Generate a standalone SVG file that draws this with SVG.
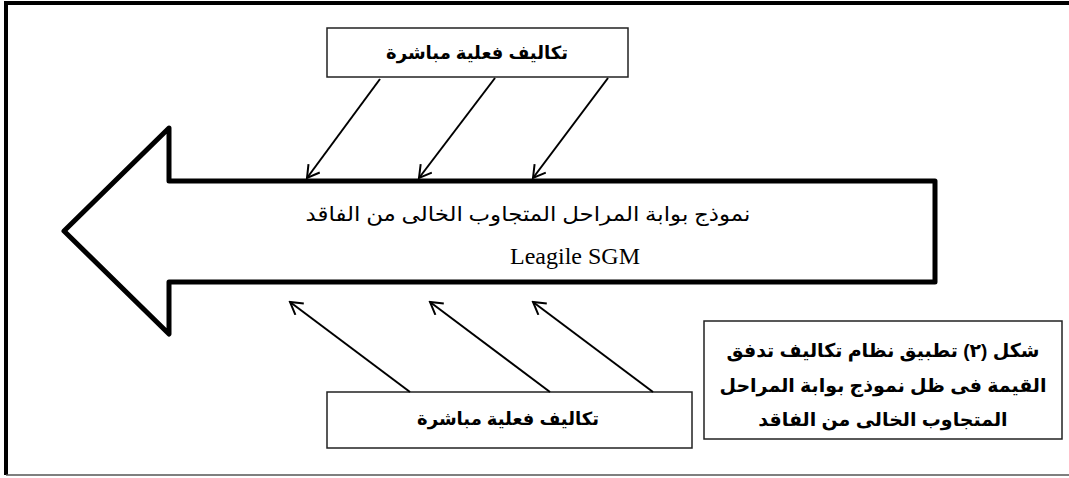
<svg xmlns="http://www.w3.org/2000/svg" width="1069" height="478" viewBox="0 0 1069 478">
<style>
.frame{fill:none;stroke:#000;stroke-width:4}
.box{fill:#fff;stroke:#222;stroke-width:1.5}
.big{fill:#fff;stroke:#000;stroke-width:5;stroke-linejoin:round}
.con{stroke:#000;stroke-width:2;fill:none}
.lbl{font-family:"Liberation Sans","DejaVu Sans",sans-serif;font-weight:bold;font-size:18px;fill:#000;text-anchor:middle}
.cap{font-family:"Liberation Sans","DejaVu Sans",sans-serif;font-weight:bold;font-size:19px;fill:#000;text-anchor:middle}
.ser{font-family:"Liberation Serif","DejaVu Serif","DejaVu Sans",serif;font-size:20px;fill:#000;text-anchor:middle}
.en{font-size:24px}
</style>
<defs>
<marker id="ah" markerWidth="16" markerHeight="16" refX="14" refY="8" orient="auto" markerUnits="userSpaceOnUse">
<path d="M2,1 L14,8 L2,15" fill="none" stroke="#000" stroke-width="2"/>
</marker>
</defs>
<g id="frame">
<path d="M1069,3 H6 V475" class="frame"/>
<line x1="6" y1="475" x2="1069" y2="475" stroke="#555" stroke-width="1.5"/>
</g>
<g id="bigArrow">
<path class="big" d="M935,181 H169 V128 L64,231 L169,334 V282 H935 Z"/>
<text class="ser" x="528" y="221" direction="rtl" textLength="445" lengthAdjust="spacingAndGlyphs">نموذج بوابة المراحل المتجاوب الخالى من الفاقد</text>
<text class="ser en" x="575" y="264">Leagile SGM</text>
</g>
<g id="topBox">
<rect class="box" x="327" y="28" width="301" height="49"/>
<text class="lbl" x="477" y="59" direction="rtl">تكاليف فعلية مباشرة</text>
</g>
<g id="bottomBox">
<rect class="box" x="327" y="392" width="365" height="56"/>
<text class="lbl" x="508" y="425" direction="rtl">تكاليف فعلية مباشرة</text>
</g>
<g id="caption">
<rect class="box" x="704" y="321" width="358" height="118"/>
<text class="cap" x="883" y="357" direction="rtl">شكل (٢) تطبيق نظام تكاليف تدفق</text>
<text class="cap" x="883" y="392" direction="rtl">القيمة فى ظل نموذج بوابة المراحل</text>
<text class="cap" x="883" y="426" direction="rtl">المتجاوب الخالى من الفاقد</text>
</g>
<g id="connectors">
<line class="con" x1="380" y1="79" x2="307" y2="178" marker-end="url(#ah)"/>
<line class="con" x1="495" y1="78" x2="419" y2="178" marker-end="url(#ah)"/>
<line class="con" x1="608" y1="78" x2="533" y2="178" marker-end="url(#ah)"/>
<line class="con" x1="410" y1="392" x2="290" y2="302" marker-end="url(#ah)"/>
<line class="con" x1="550" y1="392" x2="430" y2="302" marker-end="url(#ah)"/>
<line class="con" x1="653" y1="392" x2="533" y2="302" marker-end="url(#ah)"/>
</g>
</svg>
